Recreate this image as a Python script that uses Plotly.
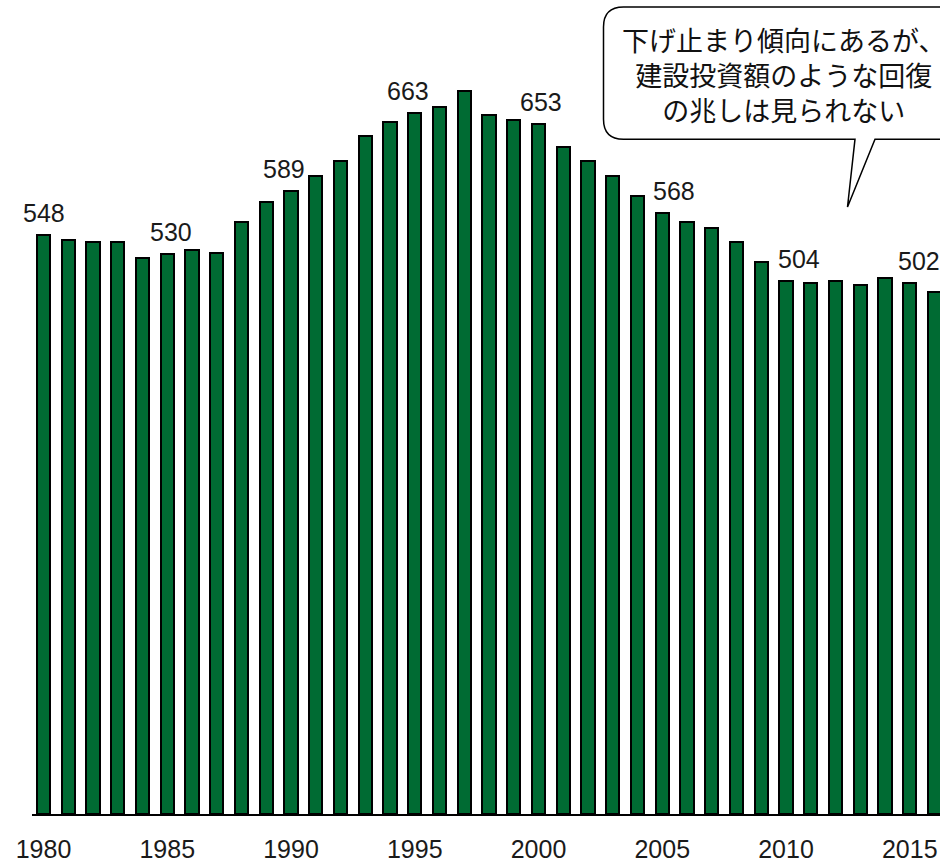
import plotly.graph_objects as go

years = list(range(1980, 2017))
values = [548, 543, 541, 541, 526, 530, 533, 531, 560, 579,
          589, 603, 618, 641, 654, 663, 669, 684, 661, 656,
          653, 631, 618, 603, 584, 568, 560, 554, 541, 522,
          504, 502, 504, 500, 507, 502, 494]
label_years = [1980, 1985, 1990, 1995, 2000, 2005, 2010, 2015]
tick_years = [1980, 1985, 1990, 1995, 2000, 2005, 2010, 2015]
callout_text = "下げ止まり傾向にあるが、<br>建設投資額のような回復<br>の兆しは見られない"

W, H = 940, 863
ML, MR, MT, MB = 32, 0, 0, 47
PW, PH = W - ML - MR, H - MT - MB
PX_PER_UNIT = 1.06
STEP = 24.75

BAR_COLOR = "#006B33"
FONT = "Liberation Sans, Arial, sans-serif"

x0 = 1980 - (43.5 - ML) / STEP
x1 = x0 + PW / STEP
ytop = PH / PX_PER_UNIT

fig = go.Figure()
fig.add_trace(go.Bar(
    x=years, y=values, width=0.53,
    marker=dict(color=BAR_COLOR, line=dict(color="#000000", width=2)),
    hoverinfo="x+y",
))

# value labels
label_dx = {1980: 0, 1985: 4, 1990: -7, 1995: -7, 2000: 2, 2005: 12, 2010: 13, 2015: 9}
for yr in label_years:
    v = values[years.index(yr)]
    fig.add_annotation(x=yr, y=v, text=str(v), showarrow=False,
                       xanchor="center", yanchor="middle",
                       yshift=22, xshift=label_dx.get(yr, 0),
                       font=dict(family=FONT, size=25, color="#1a1a1a"))

# callout bubble (pixel geometry converted to paper coords)
def px(x):
    return (x - ML) / PW

def py(y):
    return (H - MB - y) / PH

L, R, T, B, r = 603.5, 963, 7, 139.5, 20
tail_a, tail_b, tip = 855, 875, (847.5, 207.5)
path = (
    f"M {px(L + r)},{py(T)} L {px(R - r)},{py(T)} "
    f"Q {px(R)},{py(T)} {px(R)},{py(T + r)} L {px(R)},{py(B - r)} "
    f"Q {px(R)},{py(B)} {px(R - r)},{py(B)} L {px(tail_b)},{py(B)} "
    f"L {px(tip[0])},{py(tip[1])} L {px(tail_a)},{py(B)} "
    f"L {px(L + r)},{py(B)} Q {px(L)},{py(B)} {px(L)},{py(B - r)} "
    f"L {px(L)},{py(T + r)} Q {px(L)},{py(T)} {px(L + r)},{py(T)} Z"
)
fig.add_shape(type="path", path=path, xref="paper", yref="paper",
              line=dict(color="#000000", width=1.5), fillcolor="#ffffff",
              layer="above")
fig.add_annotation(x=px(783), y=py(75), xref="paper", yref="paper",
                   text=callout_text, showarrow=False,
                   xanchor="center", yanchor="middle", align="center",
                   font=dict(family="Noto Sans CJK JP", size=27, color="#111111"))

fig.update_layout(
    width=W, height=H,
    margin=dict(l=ML, r=MR, t=MT, b=MB, pad=0),
    paper_bgcolor="#ffffff", plot_bgcolor="#ffffff",
    showlegend=False,
    bargap=0,
    xaxis=dict(range=[x0, x1], tickvals=tick_years,
               ticktext=[str(t) for t in tick_years],
               showline=True, linecolor="#000000", linewidth=2,
               showgrid=False, zeroline=False, ticks="",
               ticklabelstandoff=12,
               tickfont=dict(family=FONT, size=25, color="#1a1a1a")),
    yaxis=dict(range=[0, ytop], visible=False, showgrid=False, zeroline=False),
)

fig.write_html("out.html",
               config={"displayModeBar": False},
               post_script="document.body.style.margin='0';document.body.style.overflow='hidden';")
